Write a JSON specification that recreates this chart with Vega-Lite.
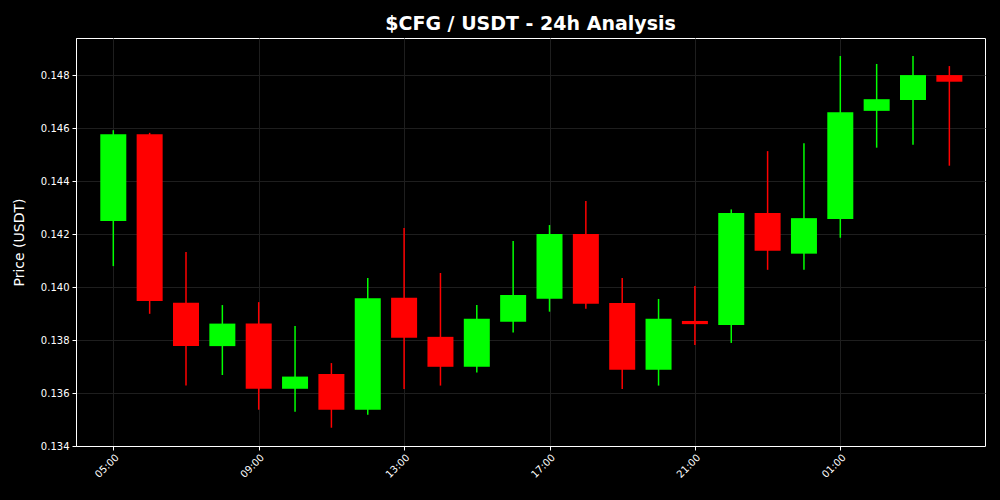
{
  "$schema": "https://vega.github.io/schema/vega-lite/v6.json",
  "width": 909,
  "height": 408,
  "autosize": {"type": "none"},
  "padding": {"left": 76, "top": 38, "right": 15, "bottom": 54},
  "background": "#000000",
  "title": {"text": "$CFG / USDT - 24h Analysis", "color": "#ffffff", "fontSize": 19, "fontWeight": "bold", "font": "DejaVu Sans", "offset": 4, "anchor": "middle"},
  "config": {
    "view": {"stroke": "#ffffff", "strokeWidth": 1, "fill": "#000000"},
    "axis": {"labelFont": "DejaVu Sans", "titleFont": "DejaVu Sans", "labelColor": "#ffffff", "titleColor": "#ffffff", "tickColor": "#ffffff", "domainColor": "#ffffff", "gridColor": "#1e1e1e", "gridWidth": 1, "labelFontSize": 10, "titleFontSize": 14, "titleFontWeight": "normal", "tickSize": 4, "labelPadding": 3}
  },
  "data": {"values": [
    {"t": "2024-01-01T05:00:00", "open": 0.14249, "high": 0.14592, "low": 0.14079, "close": 0.14577},
    {"t": "2024-01-01T06:00:00", "open": 0.14577, "high": 0.14582, "low": 0.13899, "close": 0.13947},
    {"t": "2024-01-01T07:00:00", "open": 0.13941, "high": 0.14132, "low": 0.13628, "close": 0.13777},
    {"t": "2024-01-01T08:00:00", "open": 0.13777, "high": 0.13932, "low": 0.13668, "close": 0.13862},
    {"t": "2024-01-01T09:00:00", "open": 0.13862, "high": 0.13943, "low": 0.13537, "close": 0.13616},
    {"t": "2024-01-01T10:00:00", "open": 0.13616, "high": 0.13853, "low": 0.13529, "close": 0.13662},
    {"t": "2024-01-01T11:00:00", "open": 0.13672, "high": 0.13713, "low": 0.13469, "close": 0.13537},
    {"t": "2024-01-01T12:00:00", "open": 0.13537, "high": 0.14034, "low": 0.13518, "close": 0.13958},
    {"t": "2024-01-01T13:00:00", "open": 0.13960, "high": 0.14223, "low": 0.13615, "close": 0.13809},
    {"t": "2024-01-01T14:00:00", "open": 0.13812, "high": 0.14053, "low": 0.13628, "close": 0.13699},
    {"t": "2024-01-01T15:00:00", "open": 0.13699, "high": 0.13932, "low": 0.13677, "close": 0.13880},
    {"t": "2024-01-01T16:00:00", "open": 0.13869, "high": 0.14174, "low": 0.13828, "close": 0.13970},
    {"t": "2024-01-01T17:00:00", "open": 0.13956, "high": 0.14234, "low": 0.13907, "close": 0.14200},
    {"t": "2024-01-01T18:00:00", "open": 0.14200, "high": 0.14325, "low": 0.13918, "close": 0.13937},
    {"t": "2024-01-01T19:00:00", "open": 0.13940, "high": 0.14034, "low": 0.13615, "close": 0.13688},
    {"t": "2024-01-01T20:00:00", "open": 0.13688, "high": 0.13955, "low": 0.13628, "close": 0.13880},
    {"t": "2024-01-01T21:00:00", "open": 0.13872, "high": 0.14004, "low": 0.13781, "close": 0.13860},
    {"t": "2024-01-01T22:00:00", "open": 0.13857, "high": 0.14293, "low": 0.13789, "close": 0.14279},
    {"t": "2024-01-01T23:00:00", "open": 0.14279, "high": 0.14513, "low": 0.14065, "close": 0.14137},
    {"t": "2024-01-02T00:00:00", "open": 0.14126, "high": 0.14543, "low": 0.14065, "close": 0.14260},
    {"t": "2024-01-02T01:00:00", "open": 0.14257, "high": 0.14872, "low": 0.14186, "close": 0.14660},
    {"t": "2024-01-02T02:00:00", "open": 0.14665, "high": 0.14842, "low": 0.14526, "close": 0.14709},
    {"t": "2024-01-02T03:00:00", "open": 0.14706, "high": 0.14872, "low": 0.14537, "close": 0.14800},
    {"t": "2024-01-02T04:00:00", "open": 0.14800, "high": 0.14834, "low": 0.14458, "close": 0.14775}
  ]},
  "encoding": {
    "x": {
      "field": "t", "type": "temporal", "title": null,
      "scale": {"domain": [{"year": 2024, "month": 1, "date": 1, "hours": 3, "minutes": 58, "seconds": 26}, {"year": 2024, "month": 1, "date": 2, "hours": 4, "minutes": 58, "seconds": 50}], "nice": false, "padding": 0},
      "axis": {
        "values": [
          {"year": 2024, "month": 1, "date": 1, "hours": 5},
          {"year": 2024, "month": 1, "date": 1, "hours": 9},
          {"year": 2024, "month": 1, "date": 1, "hours": 13},
          {"year": 2024, "month": 1, "date": 1, "hours": 17},
          {"year": 2024, "month": 1, "date": 1, "hours": 21},
          {"year": 2024, "month": 1, "date": 2, "hours": 1}
        ],
        "format": "%H:%M", "labelAngle": -45, "labelAlign": "right", "labelBaseline": "top", "labelPadding": 2, "grid": true
      }
    },
    "color": {"condition": {"test": "datum.close >= datum.open", "value": "#00ff00"}, "value": "#ff0000"}
  },
  "layer": [
    {
      "mark": {"type": "rule", "strokeWidth": 1.5},
      "encoding": {
        "y": {"field": "low", "type": "quantitative", "title": "Price (USDT)",
          "scale": {"domain": [0.134, 0.1494], "nice": false, "zero": false},
          "axis": {"values": [0.134, 0.136, 0.138, 0.14, 0.142, 0.144, 0.146, 0.148], "format": ".3f", "titlePadding": 14, "grid": true}},
        "y2": {"field": "high"}
      }
    },
    {
      "mark": {"type": "bar", "width": 26},
      "encoding": {
        "y": {"field": "open", "type": "quantitative"},
        "y2": {"field": "close"}
      }
    }
  ]
}
